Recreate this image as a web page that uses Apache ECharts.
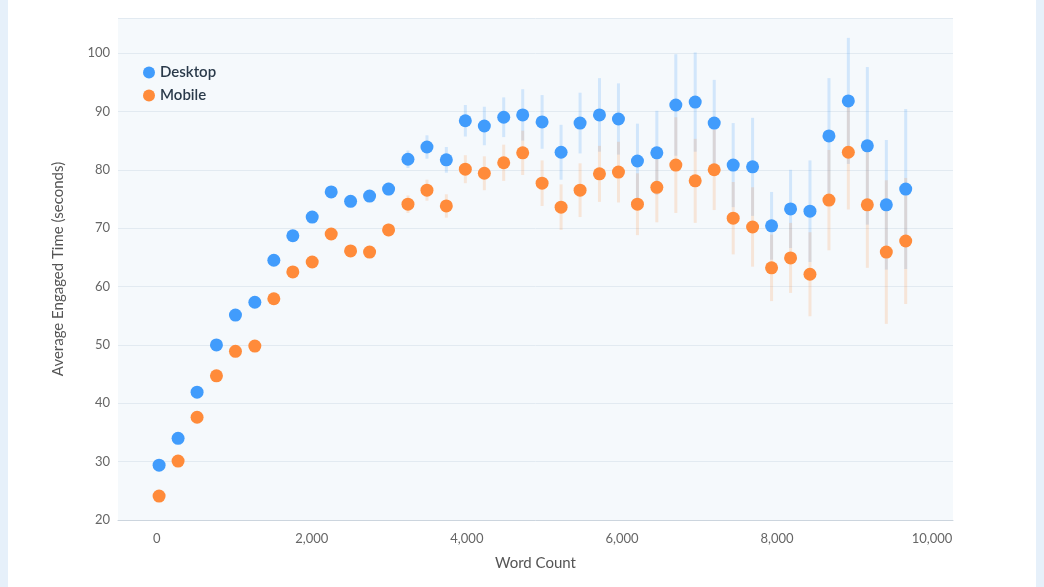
<!DOCTYPE html>
<html>
<head>
<meta charset="utf-8">
<script src="https://cdn.jsdelivr.net/npm/echarts@6/dist/echarts.min.js"></script>
<style>
  html, body { margin: 0; padding: 0; background: #e6f0fa; }
  #chart { position: absolute; left: 8px; top: 0; width: 1028px; height: 587px; background: #fff; }
</style>
</head>
<body>
<div id="chart"></div>
<script>
// word count bins (x)
const wordCount = [30, 275, 520, 770, 1015, 1265, 1510, 1755, 2005, 2250,
  2500, 2745, 2990, 3240, 3485, 3735, 3980, 4225, 4475, 4720,
  4970, 5215, 5460, 5710, 5955, 6200, 6450, 6695, 6945, 7190,
  7435, 7685, 7930, 8175, 8425, 8670, 8920, 9165, 9410, 9660];

const desktop = [29.4, 34.0, 41.9, 50.0, 55.1, 57.3, 64.5, 68.7, 71.9, 76.2,
  74.6, 75.5, 76.7, 81.8, 83.9, 81.7, 88.4, 87.5, 89.0, 89.4,
  88.2, 83.0, 88.0, 89.4, 88.7, 81.5, 82.9, 91.1, 91.6, 88.0,
  80.8, 80.5, 70.4, 73.3, 72.9, 85.8, 91.8, 84.1, 74.0, 76.7];
const desktopErr = [0.4, 0.4, 0.5, 0.5, 0.6, 0.6, 0.7, 0.7, 0.8, 0.9,
  1.0, 1.0, 1.1, 1.5, 2.0, 2.2, 2.7, 3.3, 3.4, 4.4,
  4.6, 4.7, 5.2, 6.3, 6.1, 6.4, 7.2, 8.7, 8.5, 7.4,
  7.2, 8.4, 5.8, 6.7, 8.7, 9.9, 10.8, 13.5, 11.1, 13.7];

const mobile = [24.1, 30.1, 37.6, 44.7, 48.9, 49.8, 57.9, 62.5, 64.2, 69.0,
  66.1, 65.9, 69.7, 74.1, 76.5, 73.8, 80.1, 79.4, 81.2, 82.9,
  77.7, 73.6, 76.5, 79.3, 79.6, 74.1, 77.0, 80.8, 78.1, 80.0,
  71.7, 70.2, 63.2, 64.9, 62.1, 74.8, 83.0, 74.0, 65.9, 67.8];
const mobileErr = [0.4, 0.4, 0.5, 0.5, 0.6, 0.6, 0.7, 0.8, 0.8, 0.9,
  1.0, 1.0, 1.1, 1.5, 1.8, 2.0, 2.4, 2.9, 3.1, 3.8,
  3.9, 3.9, 4.6, 4.8, 5.2, 5.3, 6.0, 8.2, 7.2, 6.9,
  6.2, 6.8, 5.7, 6.0, 7.2, 8.6, 9.8, 10.8, 12.3, 10.8];

const yTicks = [20, 30, 40, 50, 60, 70, 80, 90, 100];

const BLUE = '#419cfc';
const ORANGE = '#ff8b3a';

const chart = echarts.init(document.getElementById('chart'));

const errorSeries = (name, vals, errs, color) => ({
  name: name + ' err',
  type: 'custom',
  z: 1,
  silent: true,
  data: wordCount.map((w, i) => [w, vals[i] - errs[i], vals[i] + errs[i]]),
  renderItem: (params, api) => {
    const lo = api.coord([api.value(0), api.value(1)]);
    const hi = api.coord([api.value(0), api.value(2)]);
    return {
      type: 'line',
      shape: { x1: lo[0], y1: lo[1], x2: hi[0], y2: hi[1] },
      style: { stroke: color, lineWidth: 3 }
    };
  }
});

const option = {
  textStyle: { fontFamily: 'Lato, "Open Sans", sans-serif' },
  grid: { left: 110, right: 83, top: 18, bottom: 67, backgroundColor: '#f5f9fc', show: true, borderWidth: 0 },
  legend: {
    left: 130, top: 60, orient: 'vertical', itemGap: 8,
    icon: 'circle', itemWidth: 12, itemHeight: 12,
    data: ['Desktop', 'Mobile'],
    textStyle: { fontSize: 15, fontWeight: 600, color: '#2a3a4a' }
  },
  xAxis: {
    type: 'value', min: -500, max: 10270,
    name: 'Word Count', nameLocation: 'middle', nameGap: 36,
    nameTextStyle: { fontSize: 15, color: '#555' },
    axisLine: { show: true, lineStyle: { color: '#ccd5de' } },
    axisTick: { show: false },
    splitLine: { show: false },
    axisLabel: {
      color: '#666', fontSize: 13, margin: 12, showMinLabel: false, showMaxLabel: false,
      formatter: v => v.toLocaleString('en-US')
    }
  },
  yAxis: {
    type: 'value', min: 20, max: 106, interval: 10,
    name: 'Average Engaged Time (seconds)', nameLocation: 'middle', nameGap: 52,
    nameTextStyle: { fontSize: 15, color: '#555' },
    axisLine: { show: false }, axisTick: { show: false },
    splitLine: { lineStyle: { color: '#e2eaf1' } },
    axisLabel: {
      color: '#666', fontSize: 13, showMaxLabel: false,
      formatter: v => (yTicks.includes(v) ? String(v) : '')
    }
  },
  series: [
    errorSeries('Desktop', desktop, desktopErr, 'rgba(65,156,252,0.2)'),
    errorSeries('Mobile', mobile, mobileErr, 'rgba(255,139,58,0.18)'),
    {
      name: 'Desktop', type: 'scatter', z: 3, symbolSize: 13,
      itemStyle: { color: BLUE, opacity: 1 },
      data: wordCount.map((w, i) => [w, desktop[i]])
    },
    {
      name: 'Mobile', type: 'scatter', z: 3, symbolSize: 13,
      itemStyle: { color: ORANGE, opacity: 1 },
      data: wordCount.map((w, i) => [w, mobile[i]])
    }
  ]
};

chart.setOption(option);
window.addEventListener('resize', chart.resize);
</script>
</body>
</html>
